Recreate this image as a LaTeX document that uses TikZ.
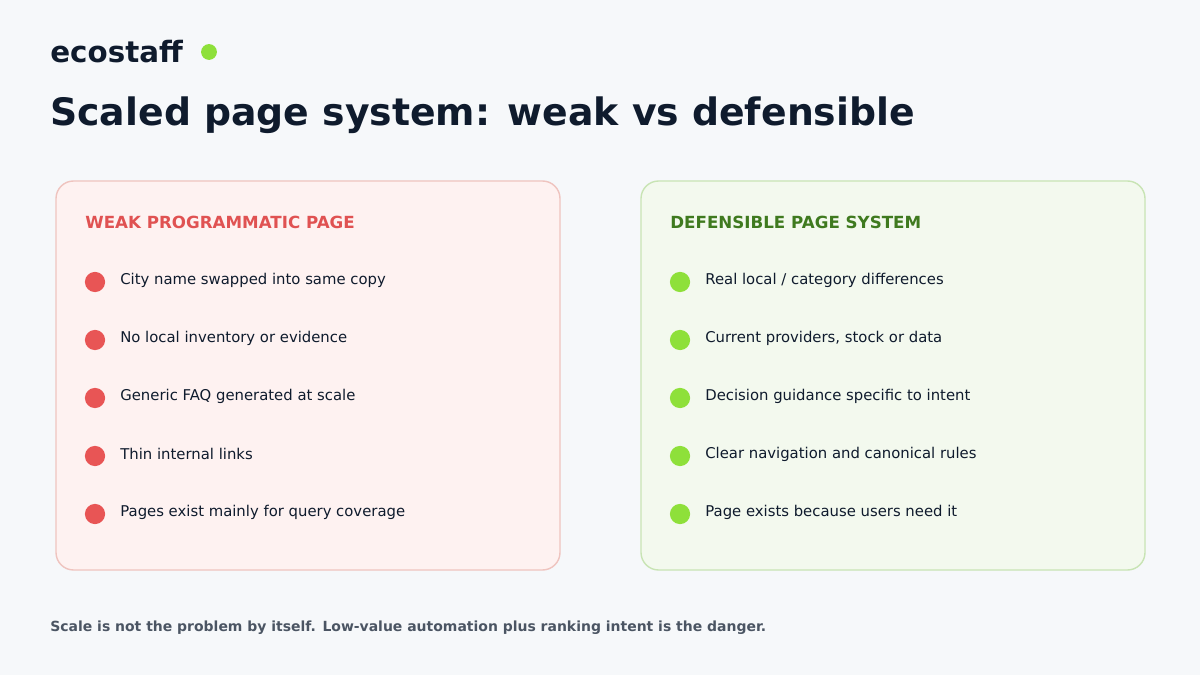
\documentclass[tikz,border=0pt]{standalone}
\usepackage{fontspec}
\setmainfont{DejaVu Sans}
\usetikzlibrary{positioning}
\definecolor{bgcol}{HTML}{F6F8FA}
\definecolor{inkcol}{HTML}{0F1B2D}
\definecolor{footcol}{HTML}{4B5563}
\definecolor{weakfill}{HTML}{FEF2F1}
\definecolor{weakline}{HTML}{EFC4BF}
\definecolor{weakhead}{HTML}{E05252}
\definecolor{weakdot}{HTML}{E85555}
\definecolor{goodfill}{HTML}{F3F9EE}
\definecolor{goodline}{HTML}{C8E4B4}
\definecolor{goodhead}{HTML}{3F7A1F}
\definecolor{gooddot}{HTML}{8EE03A}

\begin{document}
\begin{tikzpicture}[x=0.02cm,y=-0.02cm]

\tikzset{card/.style={rounded corners=10pt, line width=0.8pt},
    head/.style={anchor=west, font=\fontsize{9.5pt}{11pt}\selectfont\bfseries},
    item/.style={anchor=west, text=inkcol, font=\fontsize{8.45pt}{10pt}\selectfont},
    bullet/.style={circle, inner sep=0, minimum size=11.5pt}}

% =========================
% background and title
% =========================
\fill[bgcol] (0,0) rectangle (1200,675);
\useasboundingbox (0,0) rectangle (1200,675);

\node[anchor=west, text=inkcol, font=\fontsize{16.7pt}{18pt}\selectfont\bfseries,
    inner sep=0] (logo) at (50,52) {ecostaff};
\node[bullet, fill=gooddot, minimum size=9pt] (logodot) at (209,52) {};
\node[anchor=west, text=inkcol, font=\fontsize{21.5pt}{24pt}\selectfont\bfseries,
    inner sep=0] (title) at (50,115) {Scaled page system: weak vs defensible};

% =========================
% weak card
% =========================
\draw[card, fill=weakfill, draw=weakline] (56,181) rectangle (560,570);
\node[head, text=weakhead, inner sep=0] (weakhead) at (85,222) {WEAK PROGRAMMATIC PAGE};
\foreach \t [count=\i] in {City name swapped into same copy,
    No local inventory or evidence, Generic FAQ generated at scale,
    Thin internal links, Pages exist mainly for query coverage}{
  \node[bullet, fill=weakdot] (wd\i) at (95,224+58*\i) {};
  \node[item, inner sep=0] (wt\i) at (120,222+58*\i) {\t};
}

% =========================
% defensible card
% =========================
\draw[card, fill=goodfill, draw=goodline] (641,181) rectangle (1145,570);
\node[head, text=goodhead, inner sep=0] (goodhead) at (670,222) {DEFENSIBLE PAGE SYSTEM};
\foreach \t [count=\i] in {Real local / category differences,
    {Current providers, stock or data}, Decision guidance specific to intent,
    Clear navigation and canonical rules, Page exists because users need it}{
  \node[bullet, fill=gooddot] (gd\i) at (680,224+58*\i) {};
  \node[item, inner sep=0] (gt\i) at (705,222+58*\i) {\t};
}

% footer
\node[anchor=west, text=footcol, font=\fontsize{7.95pt}{10pt}\selectfont\bfseries,
    inner sep=0] (foot) at (50,628)
    {Scale is not the problem by itself. Low-value automation plus ranking intent is the danger.};

\end{tikzpicture}
\end{document}
